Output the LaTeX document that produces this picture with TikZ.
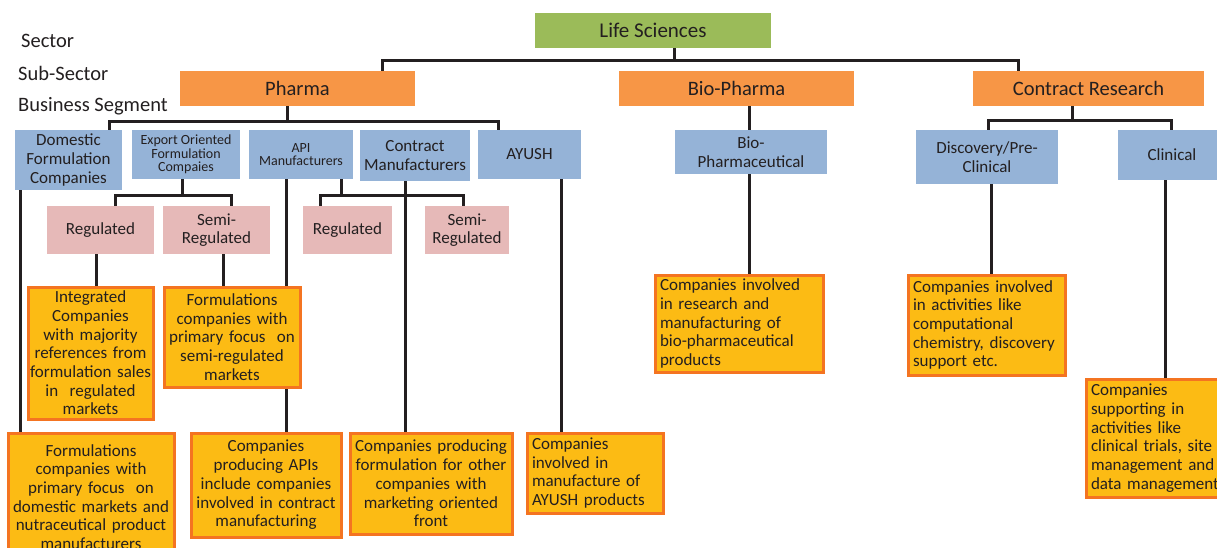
\documentclass[tikz,border=0pt]{standalone}
\usepackage{fontspec}
\setmainfont{Carlito}
\usetikzlibrary{backgrounds}
\definecolor{lsgreen}{HTML}{9BBB59}
\definecolor{suborange}{HTML}{F79646}
\definecolor{segblue}{HTML}{95B3D7}
\definecolor{mktpink}{HTML}{E6B9B8}
\definecolor{descfill}{HTML}{FCBB14}
\definecolor{descline}{HTML}{F47421}
\definecolor{inkgray}{HTML}{231F20}
\tikzset{
  label/.style={anchor=west, inner sep=0pt, text=inkgray, font=\fontsize{20.5}{22}\selectfont},
  sector/.style={fill=lsgreen, minimum height=35pt, inner sep=2pt, text=inkgray, font=\fontsize{21}{23}\selectfont},
  subsector/.style={fill=suborange, minimum height=35pt, inner sep=2pt, text=inkgray, font=\fontsize{20.5}{22}\selectfont},
  segment/.style={fill=segblue, align=center, inner sep=2pt, text=inkgray, font=\fontsize{17}{18.7}\selectfont},
  segsmall/.style={segment, font=\fontsize{14}{13.6}\selectfont},
  market/.style={fill=mktpink, align=center, minimum height=48pt, inner sep=2pt, text=inkgray, font=\fontsize{17}{18.7}\selectfont},
  desc/.style={fill=descfill, draw=descline, line width=3pt, inner xsep=5pt, inner ysep=2pt, text=inkgray, font=\fontsize{17}{18.7}\selectfont},
  link/.style={draw=inkgray, line width=3pt}
}
\begin{document}
\begin{tikzpicture}[x=1pt,y=-1pt]
\useasboundingbox (0,0) rectangle (1217,547);

\node[label] (lsector) at (21,41) {Sector};
\node[label] (lsub) at (18,73) {Sub-Sector};
\node[label] (lseg) at (18,106) {Business Segment};

\node[sector, minimum width=236pt] (life) at (653,30.5) {Life Sciences};

\node[subsector, minimum width=235pt] (pharma) at (297.5,88.5) {Pharma};
\node[subsector, minimum width=235pt] (biopharma) at (736.5,88.5) {Bio-Pharma};
\node[subsector, minimum width=231pt] (cr) at (1088.5,88.5) {Contract Research};

\node[segment, minimum width=107pt, minimum height=60pt] (domestic) at (68.5,160) {Domestic\\Formulation\\Companies};
\node[segsmall, minimum width=108pt, minimum height=49pt] (export) at (186,154.5) {Export Oriented\\Formulation\\Compaies};
\node[segsmall, minimum width=104pt, minimum height=49pt] (api) at (301,154.5) {API\\Manufacturers};
\node[segment, minimum width=110pt, minimum height=51pt] (cm) at (415,155.5) {Contract\\Manufacturers};
\node[segment, minimum width=103pt, minimum height=49pt] (ayush) at (529.5,154.5) {AYUSH};
\node[segment, minimum width=152pt, minimum height=44pt] (biopharmac) at (751,152) {Bio-\\Pharmaceutical};
\node[segment, minimum width=142pt, minimum height=54pt] (discovery) at (987,157) {Discovery/Pre-\\Clinical};
\node[segment, minimum width=108pt, minimum height=50pt] (clinical) at (1172,155) {Clinical};

\node[market, minimum width=107pt] (reg1) at (100.5,230) {Regulated};
\node[market, minimum width=107pt] (semi1) at (216.5,230) {Semi-\\Regulated};
\node[market, minimum width=89pt] (reg2) at (347.5,230) {Regulated};
\node[market, minimum width=84pt] (semi2) at (467,230) {Semi-\\Regulated};

\node[desc, align=center, text width=123pt, inner xsep=1pt, minimum width=125pt, minimum height=132pt] (integrated) at (90.5,353) {Integrated\\Companies\\with majority\\references from\\formulation sales\\in\ \ regulated\\markets};
\node[desc, align=center, text width=126pt, minimum width=136pt, minimum height=100pt] (semidesc) at (232,337) {Formulations\\companies with\\primary focus\ \ on\\semi-regulated\\markets};
\node[desc, align=center, text width=156pt, minimum width=166pt, minimum height=128pt] (domdesc) at (91,497) {Formulations\\companies with\\primary focus\ \ on\\domestic markets and\\nutraceutical product\\manufacturers};
\node[desc, align=center, text width=140pt, minimum width=150pt, minimum height=104pt] (apidesc) at (266,485) {Companies\\producing APIs\\include companies\\involved in contract\\manufacturing};
\node[desc, align=center, text width=154pt, inner xsep=4pt, minimum width=162pt, minimum height=101pt] (cmdesc) at (431,483.5) {Companies producing\\formulation for other\\companies with\\marketing oriented\\front};
\node[desc, align=left, text width=126pt, minimum width=136pt, minimum height=80pt] (ayushdesc) at (595,473) {Companies\\involved in\\manufacture of\\AYUSH products};
\node[desc, align=left, text width=158pt, minimum width=168pt, minimum height=97pt] (biodesc) at (739,323.5) {Companies involved\\in research and\\manufacturing of\\bio-pharmaceutical\\products};
\node[desc, align=left, text width=147pt, minimum width=157pt, minimum height=100pt] (discdesc) at (986.5,325) {Companies involved\\in activities like\\computational\\chemistry, discovery\\support etc.};
\node[desc, align=left, text width=134pt, minimum width=144pt, minimum height=118pt] (clindesc) at (1158,438) {Companies\\supporting in\\activities like\\clinical trials, site\\management and\\data management};

\begin{pgfonlayer}{background}
\draw[link] ([xshift=21pt]life.south) -- ++(0,13);
\draw[link] ([xshift=84.5pt]pharma.north) -- ++(0,-10) -| ([xshift=-70.5pt]cr.north);

\draw[link] ([xshift=-10.5pt]pharma.south) -- ++(0,16);
\draw[link] ([xshift=40.5pt]domestic.north) -- ++(0,-8) -| ([xshift=-31.5pt]ayush.north);

\draw[link] ([xshift=-4pt]export.south) -- ++(0,17);
\draw[link] ([xshift=14.5pt]reg1.north) -- ++(0,-10) -| ([xshift=14.5pt]semi1.north);
\draw[link] ([xshift=40pt]api.south) -- ++(0,17);
\draw[link] ([xshift=-27.5pt]reg2.north) -- ++(0,-10) -| ([xshift=-4pt]semi2.north);

\draw[link] ([xshift=-48.5pt]domestic.south) -- ([xshift=-71pt]domdesc.north);
\draw[link] ([xshift=-4.5pt]reg1.south) -- ([xshift=5.5pt]integrated.north);
\draw[link] ([xshift=6.5pt]semi1.south) -- ([xshift=-9pt]semidesc.north);
\draw[link] ([xshift=-15pt]api.south) -- ([xshift=20pt]apidesc.north);
\draw[link] ([xshift=-10pt]cm.south) -- ([xshift=-26pt]cmdesc.north);
\draw[link] ([xshift=31.5pt]ayush.south) -- ([xshift=-34pt]ayushdesc.north);

\draw[link] ([xshift=12.5pt]biopharma.south) -- ([xshift=-2pt]biopharmac.north);
\draw[link] ([xshift=-2pt]biopharmac.south) -- ([xshift=10pt]biodesc.north);

\draw[link] ([xshift=-16.5pt]cr.south) -- ++(0,15);
\draw[link] ([xshift=1pt]discovery.north) -- ++(0,-9) -| ([xshift=-1pt]clinical.north);
\draw[link] ([xshift=4pt]discovery.south) -- ([xshift=4.5pt]discdesc.north);
\draw[link] ([xshift=-7pt]clinical.south) -- ([xshift=7pt]clindesc.north);
\end{pgfonlayer}
\end{tikzpicture}
\end{document}
